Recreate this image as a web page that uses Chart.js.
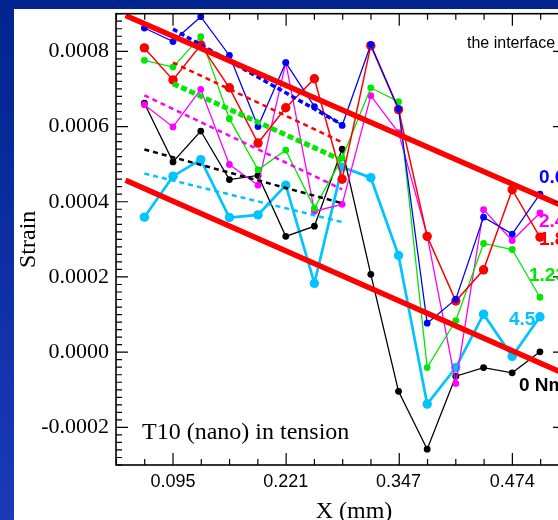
<!DOCTYPE html>
<html>
<head>
<meta charset="utf-8">
<script src="https://cdn.jsdelivr.net/npm/chart.js@4.4.0/dist/chart.umd.min.js"></script>
<style>
html, body { margin: 0; padding: 0; width: 558px; height: 520px; overflow: hidden; }
body { position: relative; background: linear-gradient(#00248e, #1a3ab8); }
#panel { position: absolute; left: 14px; top: 9px; width: 600px; height: 511px; background: #fff; }
</style>
</head>
<body>
<div id="panel"><canvas id="strain_chart" width="600" height="511"></canvas></div>
<script>

// x positions (mm) and axis ticks
let x_pos = [0.063, 0.095, 0.126, 0.158, 0.190, 0.221, 0.253, 0.284, 0.316, 0.347, 0.379, 0.411, 0.442, 0.474, 0.505];
let x_ticks = [0.095, 0.221, 0.347, 0.474];
let y_ticks = [-0.0002, 0.0000, 0.0002, 0.0004, 0.0006, 0.0008];

// strain per torque level
let blue_strain    = [0.000862, 0.000826, 0.000892, 0.000789, 0.000600, 0.000770, 0.000653, 0.000603, 0.000818, 0.000647, 0.000077, 0.000141, 0.000359, 0.000314, 0.000420];
let red_strain     = [0.000809, 0.000724, 0.000817, 0.000703, 0.000556, 0.000650, 0.000727, 0.000460, 0.000815, 0.000645, 0.000308, 0.000136, 0.000219, 0.000432, 0.000306];
let green_strain   = [0.000776, 0.000758, 0.000839, 0.000621, 0.000485, 0.000537, 0.000383, 0.000516, 0.000703, 0.000666, -0.000041, 0.000084, 0.000289, 0.000273, 0.000146];
let magenta_strain = [0.000658, 0.000599, 0.000699, 0.000499, 0.000444, 0.000770, 0.000375, 0.000393, 0.000682, 0.000584, 0.000310, -0.000083, 0.000379, 0.000297, 0.000370];
let black_strain   = [0.000662, 0.000506, 0.000588, 0.000459, 0.000470, 0.000308, 0.000335, 0.000540, 0.000207, -0.000104, -0.000258, -0.000064, -0.000041, -0.000055, 0.000001];
let cyan_strain    = [0.000359, 0.000468, 0.000512, 0.000358, 0.000365, 0.000444, 0.000183, 0.000492, 0.000464, 0.000257, -0.000138, -0.000041, 0.000101, -0.000011, 0.000094];

// dashed trend lines (start, end)
let trend_x_long  = [0.063, 0.284];
let trend_x_short = [0.095, 0.284];
let blue_trend    = [0.000859, 0.000605];
let red_trend     = [0.000770, 0.000558];
let green_trend   = [0.000714, 0.000510];
let magenta_trend = [0.000683, 0.000433];
let black_trend   = [0.000539, 0.000396];
let cyan_trend    = [0.000475, 0.000346];

// thick red band lines
let band_x     = [0.042, 0.533];
let band_upper = [0.000895, 0.000386];
let band_lower = [0.000457, -0.000058];

const BLUE = '#0000ff', RED = '#ff0000', GREEN = '#00e800', MAGENTA = '#ff00ff', BLACK = '#000000', CYAN = '#00c4ff';

function pts(xs, ys) {
    return xs.map((x, i) => ({ x: x, y: ys[i] }));
}

function series(xs, ys, color, width, radius, order) {
    return {
        data: pts(xs, ys),
        borderColor: color,
        backgroundColor: color,
        borderWidth: width,
        pointRadius: radius,
        pointBackgroundColor: color,
        pointBorderWidth: 0,
        tension: 0,
        order: order
    };
}

function dashed(xs, ys, color, width, dash, order) {
    return {
        data: pts(xs, ys),
        borderColor: color,
        borderWidth: width,
        borderDash: dash,
        pointRadius: 0,
        tension: 0,
        order: order
    };
}

// inward ticks on all four sides plus the box
const frame_ticks = {
    id: 'frame_ticks',
    afterDatasetsDraw(chart) {
        const { ctx, chartArea: a, scales: { x, y } } = chart;
        ctx.save();
        ctx.strokeStyle = '#000';
        ctx.lineWidth = 1.2;
        ctx.beginPath();
        const xStep = 0.0316;
        for (let k = -2; k <= 14; k++) {
            const px = x.getPixelForValue(0.095 + k * xStep);
            if (px < a.left || px > a.right) continue;
            const len = (k % 4 === 0) ? 12 : 6;
            ctx.moveTo(px, a.bottom); ctx.lineTo(px, a.bottom - len);
            ctx.moveTo(px, a.top); ctx.lineTo(px, a.top + len);
        }
        for (let k = -15; k <= 45; k++) {
            const py = y.getPixelForValue(k * 0.00002);
            const len = (k % 10 === 0) ? 12 : 6;
            ctx.moveTo(a.left, py); ctx.lineTo(a.left + len, py);
            ctx.moveTo(a.right, py); ctx.lineTo(a.right - len, py);
        }
        ctx.stroke();
        ctx.lineWidth = 1.6;
        ctx.strokeRect(a.left, a.top, a.right - a.left, a.bottom - a.top);
        ctx.restore();
    }
};

// notes written on the chart
const notes = {
    id: 'notes',
    afterDraw(chart) {
        const ctx = chart.ctx;
        ctx.save();
        ctx.textAlign = 'left';
        ctx.textBaseline = 'alphabetic';
        ctx.fillStyle = '#000';
        ctx.font = '16px "Liberation Sans", Arial, sans-serif';
        ctx.fillText('the interface', 453, 39);
        ctx.font = 'bold 19px "Liberation Sans", Arial, sans-serif';
        ctx.fillStyle = BLUE;    ctx.fillText('0.6 Nm', 525, 174);
        ctx.fillStyle = MAGENTA; ctx.fillText('2.4 Nm', 525, 218);
        ctx.fillStyle = RED;     ctx.fillText('1.8 Nm', 525, 236);
        ctx.fillStyle = GREEN;   ctx.fillText('1.23 Nm', 515, 272);
        ctx.fillStyle = CYAN;    ctx.fillText('4.5', 495, 316);
        ctx.fillStyle = BLACK;   ctx.fillText('0 Nm', 505, 382);
        ctx.fillStyle = '#000';
        ctx.font = '24px "Liberation Serif", "Times New Roman", serif';
        ctx.fillText('T10 (nano) in tension', 128, 430);
        ctx.textAlign = 'center';
        ctx.fillText('X (mm)', 340, 509);
        ctx.restore();
    }
};

const strain_data = {
    datasets: [
        series(x_pos, cyan_strain, CYAN, 2.7, 4.7, 10),
        series(x_pos, black_strain, BLACK, 1.3, 3.4, 9),
        series(x_pos, magenta_strain, MAGENTA, 1.3, 3.4, 8),
        series(x_pos, green_strain, GREEN, 1.3, 3.4, 7),
        series(x_pos, red_strain, RED, 1.5, 4.7, 6),
        series(x_pos, blue_strain, BLUE, 1.3, 3.4, 5),
        dashed(trend_x_long, cyan_trend, CYAN, 2.5, [5, 4], 4),
        dashed(trend_x_long, black_trend, BLACK, 2.5, [5, 4], 4),
        dashed(trend_x_long, magenta_trend, MAGENTA, 2.5, [5, 4], 4),
        dashed(trend_x_short, green_trend, GREEN, 5, [6, 3], 4),
        dashed(trend_x_short, red_trend, RED, 2.5, [5, 4], 4),
        dashed(trend_x_short, blue_trend, BLUE, 3.5, [5, 3], 4),
        dashed(band_x, band_upper, RED, 5.5, [], 1),
        dashed(band_x, band_lower, RED, 5.5, [], 1)
    ]
};

const strain_config = {
    type: 'line',
    data: strain_data,
    options: {
        responsive: false,
        animation: false,
        layout: { padding: { top: 4, right: 49, left: 0, bottom: 0 } },
        plugins: {
            legend: { display: false },
            tooltip: { enabled: false }
        },
        scales: {
            x: {
                type: 'linear',
                min: 0.0313,
                max: 0.533,
                grid: { display: false, drawTicks: false },
                border: { display: false },
                afterBuildTicks: s => { s.ticks = x_ticks.map(v => ({ value: v })); },
                afterFit: s => { s.height = 55; s.paddingLeft = 0; s.paddingRight = 0; },
                ticks: {
                    callback: v => v.toFixed(3),
                    padding: 6,
                    maxRotation: 0,
                    autoSkip: false,
                    color: '#000',
                    font: { family: '"Liberation Sans", Arial, sans-serif', size: 18 }
                }
            },
            y: {
                min: -0.0003,
                max: 0.0009,
                grid: { display: false, drawTicks: false },
                border: { display: false },
                afterBuildTicks: s => { s.ticks = y_ticks.map(v => ({ value: v })); },
                afterFit: s => { s.width = 102; s.paddingTop = 0; s.paddingBottom = 0; },
                ticks: {
                    callback: v => v.toFixed(4),
                    padding: 7,
                    color: '#000',
                    font: { family: '"Liberation Serif", "Times New Roman", serif', size: 22 }
                },
                title: {
                    display: true,
                    text: 'Strain',
                    color: '#000',
                    padding: 0,
                    font: { family: '"Liberation Serif", "Times New Roman", serif', size: 24 }
                }
            }
        }
    },
    plugins: [frame_ticks, notes]
};

const strain_chart = new Chart(
    document.getElementById('strain_chart'),
    strain_config
);
</script>
</body>
</html>
